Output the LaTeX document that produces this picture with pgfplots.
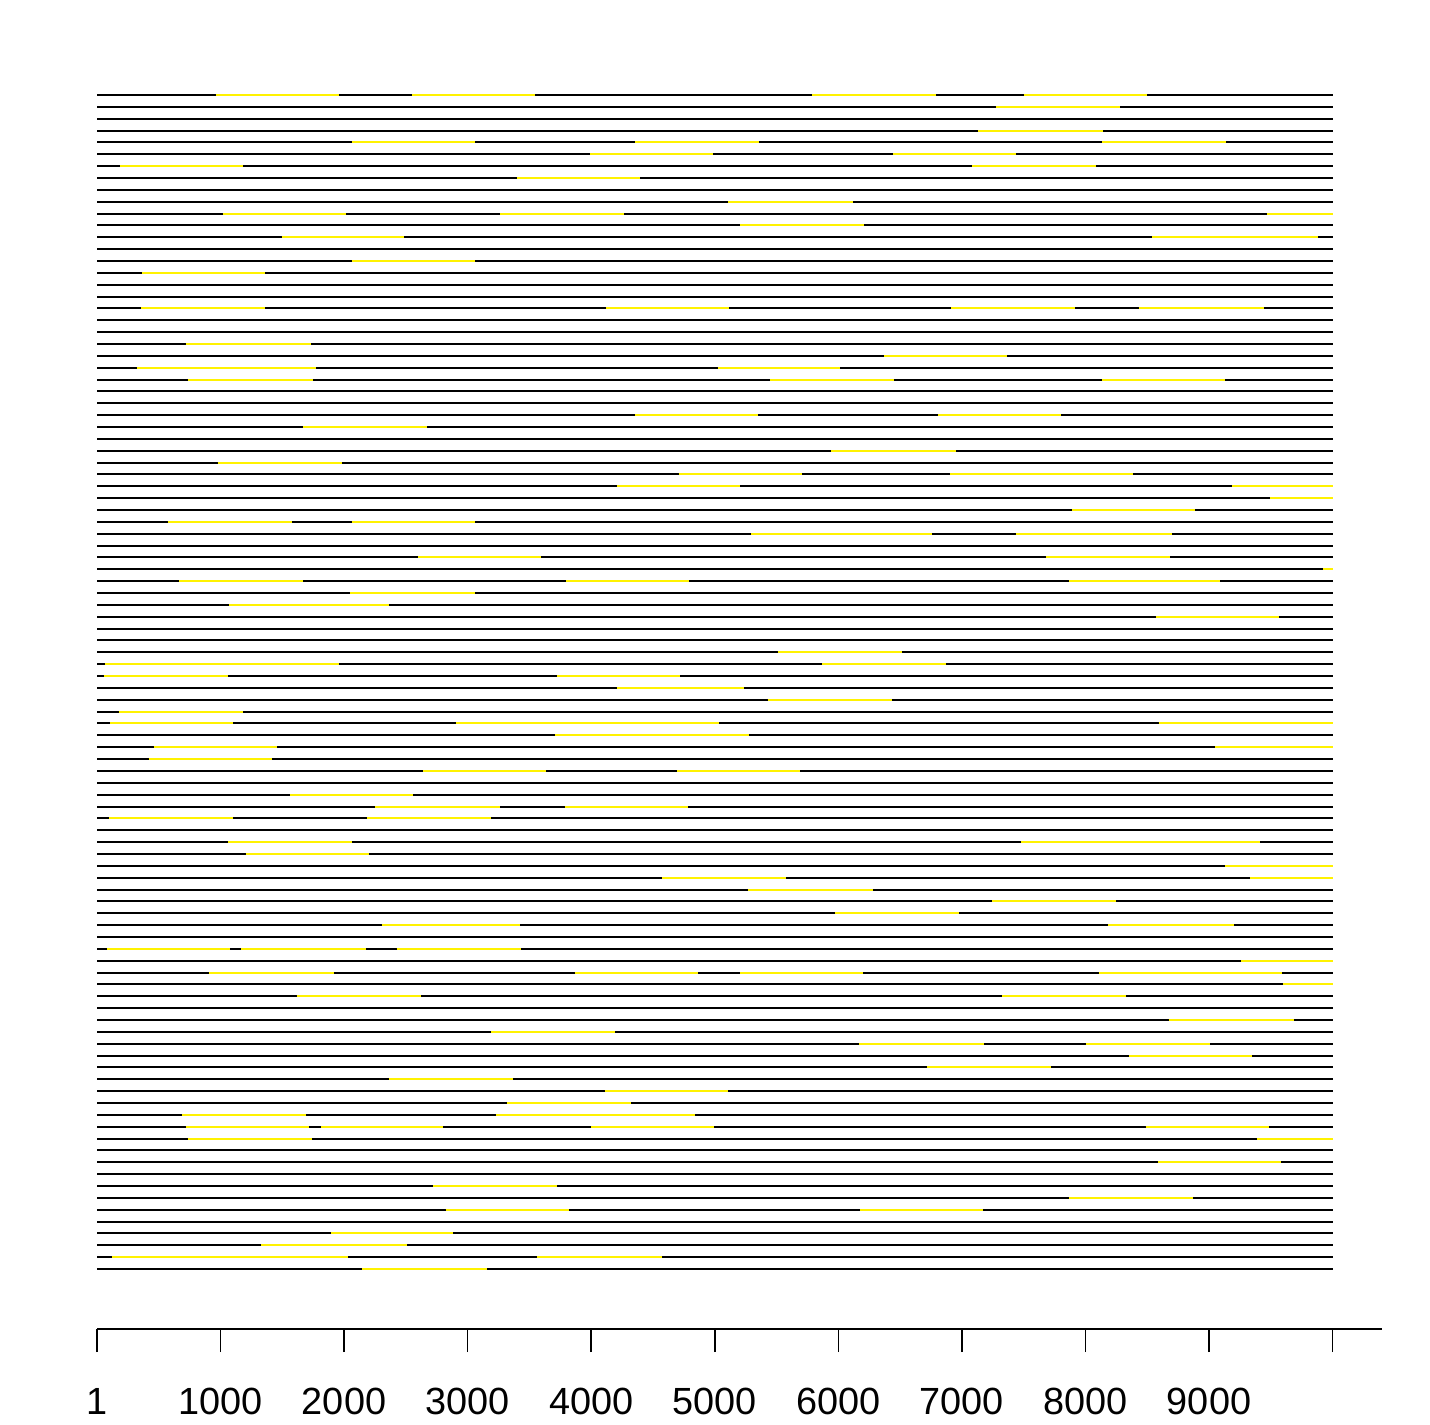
\documentclass[border=0pt]{standalone}
\usepackage{fontspec}
\setmainfont{Liberation Sans}
\usepackage{pgfplots}
\pgfplotsset{compat=1.18}
\begin{document}
\begin{tikzpicture}
\begin{axis}[
 scale only axis, width=642.5bp, height=617bp,
 xmin=1, xmax=10400, ymin=-4.06, ymax=100,
 axis x line=bottom, axis y line=none,
 axis line style={-, line width=1bp, black},
 x axis line style={-},
 clip=false,
 xtick={1,1000,2000,3000,4000,5000,6000,7000,8000,9000,10000},
 xticklabels={1,1000,2000,3000,4000,5000,6000,7000,8000,9000,{}},
 tick align=outside, major tick length=11.5bp,
 tick style={line width=0.8bp, black},
 xticklabel style={font=\fontsize{19}{23}\selectfont, anchor=north, inner sep=0pt, yshift=-18bp},
 unbounded coords=jump,
]
% black lines, one per row (row 1 at y=100, row 100 at y=1)
\addplot[black, line width=1bp] coordinates {
(1,100)(10000,100)(nan,nan)(1,99)(10000,99)(nan,nan)(1,98)(10000,98)(nan,nan)(1,97)(10000,97)(nan,nan)(1,96)(10000,96)(nan,nan)
(1,95)(10000,95)(nan,nan)(1,94)(10000,94)(nan,nan)(1,93)(10000,93)(nan,nan)(1,92)(10000,92)(nan,nan)(1,91)(10000,91)(nan,nan)
(1,90)(10000,90)(nan,nan)(1,89)(10000,89)(nan,nan)(1,88)(10000,88)(nan,nan)(1,87)(10000,87)(nan,nan)(1,86)(10000,86)(nan,nan)
(1,85)(10000,85)(nan,nan)(1,84)(10000,84)(nan,nan)(1,83)(10000,83)(nan,nan)(1,82)(10000,82)(nan,nan)(1,81)(10000,81)(nan,nan)
(1,80)(10000,80)(nan,nan)(1,79)(10000,79)(nan,nan)(1,78)(10000,78)(nan,nan)(1,77)(10000,77)(nan,nan)(1,76)(10000,76)(nan,nan)
(1,75)(10000,75)(nan,nan)(1,74)(10000,74)(nan,nan)(1,73)(10000,73)(nan,nan)(1,72)(10000,72)(nan,nan)(1,71)(10000,71)(nan,nan)
(1,70)(10000,70)(nan,nan)(1,69)(10000,69)(nan,nan)(1,68)(10000,68)(nan,nan)(1,67)(10000,67)(nan,nan)(1,66)(10000,66)(nan,nan)
(1,65)(10000,65)(nan,nan)(1,64)(10000,64)(nan,nan)(1,63)(10000,63)(nan,nan)(1,62)(10000,62)(nan,nan)(1,61)(10000,61)(nan,nan)
(1,60)(10000,60)(nan,nan)(1,59)(10000,59)(nan,nan)(1,58)(10000,58)(nan,nan)(1,57)(10000,57)(nan,nan)(1,56)(10000,56)(nan,nan)
(1,55)(10000,55)(nan,nan)(1,54)(10000,54)(nan,nan)(1,53)(10000,53)(nan,nan)(1,52)(10000,52)(nan,nan)(1,51)(10000,51)(nan,nan)
(1,50)(10000,50)(nan,nan)(1,49)(10000,49)(nan,nan)(1,48)(10000,48)(nan,nan)(1,47)(10000,47)(nan,nan)(1,46)(10000,46)(nan,nan)
(1,45)(10000,45)(nan,nan)(1,44)(10000,44)(nan,nan)(1,43)(10000,43)(nan,nan)(1,42)(10000,42)(nan,nan)(1,41)(10000,41)(nan,nan)
(1,40)(10000,40)(nan,nan)(1,39)(10000,39)(nan,nan)(1,38)(10000,38)(nan,nan)(1,37)(10000,37)(nan,nan)(1,36)(10000,36)(nan,nan)
(1,35)(10000,35)(nan,nan)(1,34)(10000,34)(nan,nan)(1,33)(10000,33)(nan,nan)(1,32)(10000,32)(nan,nan)(1,31)(10000,31)(nan,nan)
(1,30)(10000,30)(nan,nan)(1,29)(10000,29)(nan,nan)(1,28)(10000,28)(nan,nan)(1,27)(10000,27)(nan,nan)(1,26)(10000,26)(nan,nan)
(1,25)(10000,25)(nan,nan)(1,24)(10000,24)(nan,nan)(1,23)(10000,23)(nan,nan)(1,22)(10000,22)(nan,nan)(1,21)(10000,21)(nan,nan)
(1,20)(10000,20)(nan,nan)(1,19)(10000,19)(nan,nan)(1,18)(10000,18)(nan,nan)(1,17)(10000,17)(nan,nan)(1,16)(10000,16)(nan,nan)
(1,15)(10000,15)(nan,nan)(1,14)(10000,14)(nan,nan)(1,13)(10000,13)(nan,nan)(1,12)(10000,12)(nan,nan)(1,11)(10000,11)(nan,nan)
(1,10)(10000,10)(nan,nan)(1,9)(10000,9)(nan,nan)(1,8)(10000,8)(nan,nan)(1,7)(10000,7)(nan,nan)(1,6)(10000,6)(nan,nan)
(1,5)(10000,5)(nan,nan)(1,4)(10000,4)(nan,nan)(1,3)(10000,3)(nan,nan)(1,2)(10000,2)(nan,nan)(1,1)(10000,1)
};
% yellow segments
\addplot[yellow, line width=1bp] coordinates {
(963,100)(1960,100)(nan,nan)(2552,100)(3549,100)(nan,nan)(5791,100)(6788,100)(nan,nan)(7502,100)(8498,100)(nan,nan)
(7279,99)(8283,99)(nan,nan)
(7131,97)(8142,97)(nan,nan)
(2061,96)(3064,96)(nan,nan)(4357,96)(5361,96)(nan,nan)(8135,96)(9138,96)(nan,nan)
(3993,95)(4990,95)(nan,nan)(6444,95)(7441,95)(nan,nan)
(189,94)(1185,94)(nan,nan)(7084,94)(8088,94)(nan,nan)
(3401,93)(4398,93)(nan,nan)
(5111,91)(6115,91)(nan,nan)
(1017,90)(2020,90)(nan,nan)(3266,90)(4263,90)(nan,nan)(9468,90)(10000,90)(nan,nan)
(5205,89)(6209,89)(nan,nan)
(1495,88)(2485,88)(nan,nan)(8539,88)(9879,88)(nan,nan)
(2061,86)(3064,86)(nan,nan)
(364,85)(1360,85)(nan,nan)
(357,82)(1360,82)(nan,nan)(4121,82)(5118,82)(nan,nan)(6916,82)(7919,82)(nan,nan)(8431,82)(9441,82)(nan,nan)
(721,79)(1731,79)(nan,nan)
(6370,78)(7367,78)(nan,nan)
(323,77)(1771,77)(nan,nan)(5024,77)(6013,77)(nan,nan)
(741,76)(1751,76)(nan,nan)(5448,76)(6451,76)(nan,nan)(8135,76)(9131,76)(nan,nan)
(4357,73)(5354,73)(nan,nan)(6808,73)(7805,73)(nan,nan)
(1670,72)(2673,72)(nan,nan)
(5939,70)(6950,70)(nan,nan)
(977,69)(1980,69)(nan,nan)
(4707,68)(5710,68)(nan,nan)(6902,68)(8384,68)(nan,nan)
(4209,67)(5205,67)(nan,nan)(9185,67)(10000,67)(nan,nan)
(9495,66)(10000,66)(nan,nan)
(7892,65)(8889,65)(nan,nan)
(573,64)(1576,64)(nan,nan)(2061,64)(3058,64)(nan,nan)
(5293,63)(6755,63)(nan,nan)(7441,63)(8700,63)(nan,nan)
(2600,61)(3597,61)(nan,nan)(7684,61)(8681,61)(nan,nan)
(9926,60)(10000,60)(nan,nan)
(667,59)(1671,59)(nan,nan)(3798,59)(4795,59)(nan,nan)(7866,59)(9085,59)(nan,nan)
(2048,58)(3058,58)(nan,nan)
(1071,57)(2364,57)(nan,nan)
(8573,56)(9570,56)(nan,nan)
(5509,53)(6512,53)(nan,nan)
(68,52)(1960,52)(nan,nan)(5872,52)(6869,52)(nan,nan)
(55,51)(1058,51)(nan,nan)(3725,51)(4722,51)(nan,nan)
(4209,50)(5240,50)(nan,nan)
(5428,49)(6432,49)(nan,nan)
(176,48)(1179,48)(nan,nan)
(109,47)(1105,47)(nan,nan)(2910,47)(5031,47)(nan,nan)(8593,47)(10000,47)(nan,nan)
(3711,46)(5280,46)(nan,nan)
(459,45)(1455,45)(nan,nan)(9051,45)(10000,45)(nan,nan)
(418,44)(1421,44)(nan,nan)
(2640,43)(3637,43)(nan,nan)(4694,43)(5691,43)(nan,nan)
(1563,41)(2560,41)(nan,nan)
(2250,40)(3260,40)(nan,nan)(3785,40)(4782,40)(nan,nan)
(102,39)(1098,39)(nan,nan)(2189,39)(3186,39)(nan,nan)
(1065,37)(2061,37)(nan,nan)(7475,37)(9415,37)(nan,nan)
(1206,36)(2203,36)(nan,nan)
(9132,35)(10000,35)(nan,nan)
(4573,34)(5576,34)(nan,nan)(9334,34)(10000,34)(nan,nan)
(5273,33)(6277,33)(nan,nan)
(7246,32)(8250,32)(nan,nan)
(5973,31)(6977,31)(nan,nan)
(2304,30)(3421,30)(nan,nan)(8183,30)(9199,30)(nan,nan)
(82,28)(1078,28)(nan,nan)(1166,28)(2176,28)(nan,nan)(2425,28)(3435,28)(nan,nan)
(9260,27)(10000,27)(nan,nan)
(910,26)(1920,26)(nan,nan)(3866,26)(4863,26)(nan,nan)(5206,26)(6203,26)(nan,nan)(8109,26)(9590,26)(nan,nan)
(9597,25)(10000,25)(nan,nan)
(1617,24)(2620,24)(nan,nan)(7327,24)(8331,24)(nan,nan)
(8674,22)(9684,22)(nan,nan)
(3193,21)(4196,21)(nan,nan)
(6169,20)(7179,20)(nan,nan)(8008,20)(9004,20)(nan,nan)
(8351,19)(9348,19)(nan,nan)
(6721,18)(7718,18)(nan,nan)
(2364,17)(3368,17)(nan,nan)
(4109,16)(5105,16)(nan,nan)
(3321,15)(4324,15)(nan,nan)
(688,14)(1691,14)(nan,nan)(3233,14)(4842,14)(nan,nan)
(721,13)(1718,13)(nan,nan)(1812,13)(2802,13)(nan,nan)(4001,13)(4997,13)(nan,nan)(8486,13)(9482,13)(nan,nan)
(734,12)(1738,12)(nan,nan)(9388,12)(10000,12)(nan,nan)
(8587,10)(9583,10)(nan,nan)
(2721,8)(3725,8)(nan,nan)
(7866,7)(8869,7)(nan,nan)
(2822,6)(3819,6)(nan,nan)(6176,6)(7172,6)(nan,nan)
(1893,4)(2883,4)(nan,nan)
(1327,3)(2506,3)(nan,nan)
(122,2)(2034,2)(nan,nan)(3563,2)(4573,2)(nan,nan)
(2145,1)(3154,1)
};
\end{axis}
\pgfresetboundingbox
\path (-48.5bp,-48bp) rectangle (666.5bp,664.5bp);
\end{tikzpicture}
\end{document}
